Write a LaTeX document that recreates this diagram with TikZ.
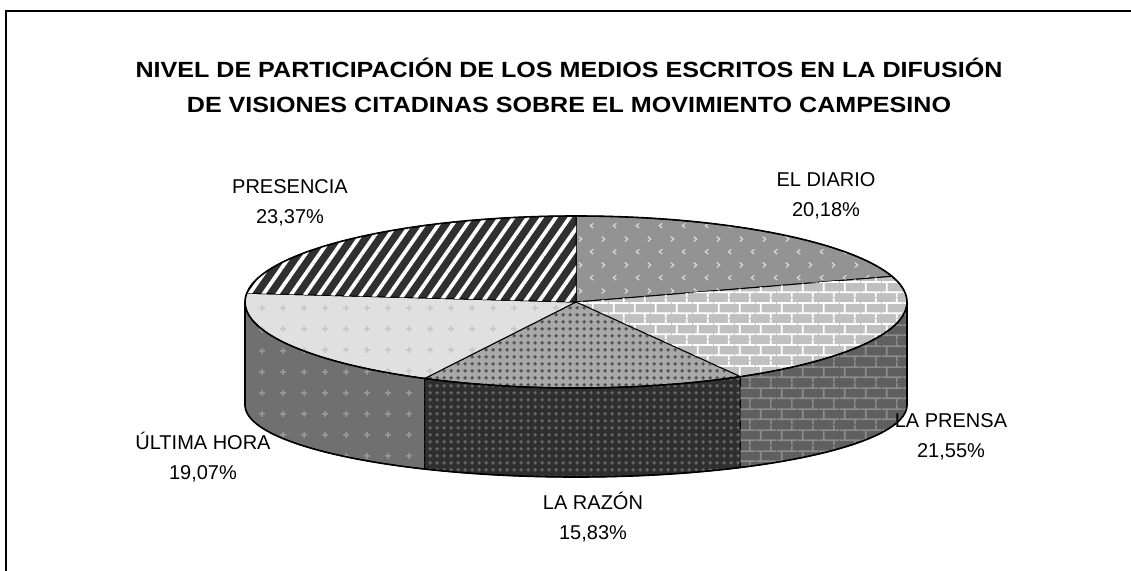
\documentclass[tikz,border=0pt]{standalone}
\usepackage{fontspec}
\setmainfont{Liberation Sans}
\newfontfamily\titlefont[FakeStretch=1.14]{Liberation Sans}
\usetikzlibrary{patterns,patterns.meta}

% textures of the slices
\pgfdeclarepatternformonly{brickwall}{\pgfqpoint{0pt}{0pt}}{\pgfqpoint{21pt}{21pt}}{\pgfqpoint{21pt}{21pt}}{%
  \pgfsetlinewidth{1.8pt}
  \pgfpathmoveto{\pgfqpoint{0pt}{5pt}}\pgfpathlineto{\pgfqpoint{21pt}{5pt}}
  \pgfpathmoveto{\pgfqpoint{0pt}{15.5pt}}\pgfpathlineto{\pgfqpoint{21pt}{15.5pt}}
  \pgfpathmoveto{\pgfqpoint{5pt}{5pt}}\pgfpathlineto{\pgfqpoint{5pt}{15.5pt}}
  \pgfpathmoveto{\pgfqpoint{15.5pt}{15.5pt}}\pgfpathlineto{\pgfqpoint{15.5pt}{21pt}}
  \pgfpathmoveto{\pgfqpoint{15.5pt}{0pt}}\pgfpathlineto{\pgfqpoint{15.5pt}{5pt}}
  \pgfusepath{stroke}}
\pgfdeclarepatternformonly{chevronmarks}{\pgfqpoint{0pt}{0pt}}{\pgfqpoint{23pt}{26pt}}{\pgfqpoint{23pt}{26pt}}{%
  \pgfsetlinewidth{1.2pt}
  \pgfpathmoveto{\pgfqpoint{4pt}{22pt}}\pgfpathlineto{\pgfqpoint{7pt}{19.5pt}}\pgfpathlineto{\pgfqpoint{4pt}{17pt}}
  \pgfpathmoveto{\pgfqpoint{19pt}{9pt}}\pgfpathlineto{\pgfqpoint{16pt}{6.5pt}}\pgfpathlineto{\pgfqpoint{19pt}{4pt}}
  \pgfusepath{stroke}}
\pgfdeclarepatternformonly{plusmarks}{\pgfqpoint{0pt}{0pt}}{\pgfqpoint{21pt}{21pt}}{\pgfqpoint{21pt}{21pt}}{%
  \pgfsetlinewidth{1.5pt}
  \pgfpathmoveto{\pgfqpoint{7.5pt}{10.5pt}}\pgfpathlineto{\pgfqpoint{13.5pt}{10.5pt}}
  \pgfpathmoveto{\pgfqpoint{10.5pt}{7.5pt}}\pgfpathlineto{\pgfqpoint{10.5pt}{13.5pt}}
  \pgfusepath{stroke}}
\pgfdeclarepatternformonly{starmarks}{\pgfqpoint{0pt}{0pt}}{\pgfqpoint{7pt}{7pt}}{\pgfqpoint{7pt}{7pt}}{%
  \pgfsetlinewidth{1.3pt}
  \pgfpathmoveto{\pgfqpoint{1.5pt}{3.5pt}}\pgfpathlineto{\pgfqpoint{5.5pt}{3.5pt}}
  \pgfpathmoveto{\pgfqpoint{3.5pt}{1.5pt}}\pgfpathlineto{\pgfqpoint{3.5pt}{5.5pt}}
  \pgfusepath{stroke}}

\definecolor{diariotop}{HTML}{939393}
\definecolor{prensatop}{HTML}{C0C0C0}
\definecolor{prensaside}{HTML}{5F5F5F}
\definecolor{razontop}{HTML}{A8A8A8}
\definecolor{razonside}{HTML}{2F2F2F}
\definecolor{horatop}{HTML}{E0E0E0}
\definecolor{horaside}{HTML}{707070}
\definecolor{presenciatop}{HTML}{303030}

\begin{document}
\begin{tikzpicture}[x=1pt,y=1pt]
    \tikzset{rim/.style={x radius=331pt, y radius=86pt}, rimlow/.style={x radius=331pt, y radius=72pt}}
    \tikzstyle{slice} = [draw=black, line width=1]
    \tikzstyle{outline} = [draw=black, line width=1.6]
    \tikzstyle{slicelabel} = [align=center, font=\fontsize{20}{30}\selectfont]
    \tikzstyle{charttitle} = [align=center, font=\titlefont\fontsize{22}{35}\selectfont\bfseries]
    \useasboundingbox (-576,-268) rectangle (555,302);
    \draw[line width=2] (-570,-280) -- (-570,291) -- (565,291);
    \node[charttitle] (title) at (-7,217) {NIVEL DE PARTICIPACIÓN DE LOS MEDIOS ESCRITOS EN LA DIFUSIÓN\\DE VISIONES CITADINAS SOBRE EL MOVIMIENTO CAMPESINO};
    % top of the pie
    \path[slice, fill=diariotop, postaction={pattern=chevronmarks, pattern color=white!85!black}] (0,0) -- (90:331pt and 86pt) arc[rim, start angle=90, end angle=17.35] -- cycle;
    \path[slice, fill=prensatop, postaction={pattern=brickwall, pattern color=white}] (0,0) -- (17.35:331pt and 86pt) arc[rim, start angle=17.35, end angle=-60.23] -- cycle;
    \path[slice, fill=razontop, postaction={pattern=starmarks, pattern color=black!75}] (0,0) -- (-60.23:331pt and 86pt) arc[rim, start angle=-60.23, end angle=-117.22] -- cycle;
    \path[slice, fill=horatop, postaction={pattern=plusmarks, pattern color=black!22}] (0,0) -- (-117.22:331pt and 86pt) arc[rim, start angle=-117.22, end angle=-185.87] -- cycle;
    \path[slice, fill=presenciatop, postaction={pattern={Lines[angle=55, distance=11.5pt, line width=3.8pt]}, pattern color=white}] (0,0) -- (-185.87:331pt and 86pt) arc[rim, start angle=-185.87, end angle=-270] -- cycle;
    % sides of the pie (bottom rim a bit flatter)
    \path[slice, fill=horaside, postaction={pattern=plusmarks, pattern color=black!40}] (-180:331pt and 86pt) arc[rim, start angle=-180, end angle=-117.22] -- ([shift={(0,-103)}]-117.22:331pt and 72pt) arc[rimlow, start angle=-117.22, end angle=-180] -- cycle;
    \path[slice, fill=razonside, postaction={pattern=starmarks, pattern color=black!55}] (-117.22:331pt and 86pt) arc[rim, start angle=-117.22, end angle=-60.23] -- ([shift={(0,-103)}]-60.23:331pt and 72pt) arc[rimlow, start angle=-60.23, end angle=-117.22] -- cycle;
    \path[slice, fill=prensaside, postaction={pattern=brickwall, pattern color=black!45}] (-60.23:331pt and 86pt) arc[rim, start angle=-60.23, end angle=0] -- ([shift={(0,-103)}]0:331pt and 72pt) arc[rimlow, start angle=0, end angle=-60.23] -- cycle;
    \draw[outline] (0,0) ellipse [rim];
    \draw[outline] (-180:331pt and 86pt) -- ([shift={(0,-103)}]-180:331pt and 72pt) arc[rimlow, start angle=-180, end angle=0] -- (0:331pt and 86pt);
    \node[slicelabel] (presencia) at (-286,99) {PRESENCIA\\23,37\%};
    \node[slicelabel] (diario) at (250,106) {EL DIARIO\\20,18\%};
    \node[slicelabel] (prensa) at (375,-135) {LA PRENSA\\21,55\%};
    \node[slicelabel] (razon) at (17,-215) {LA RAZÓN\\15,83\%};
    \node[slicelabel] (hora) at (-373,-155) {ÚLTIMA HORA\\19,07\%};
\end{tikzpicture}
\end{document}
